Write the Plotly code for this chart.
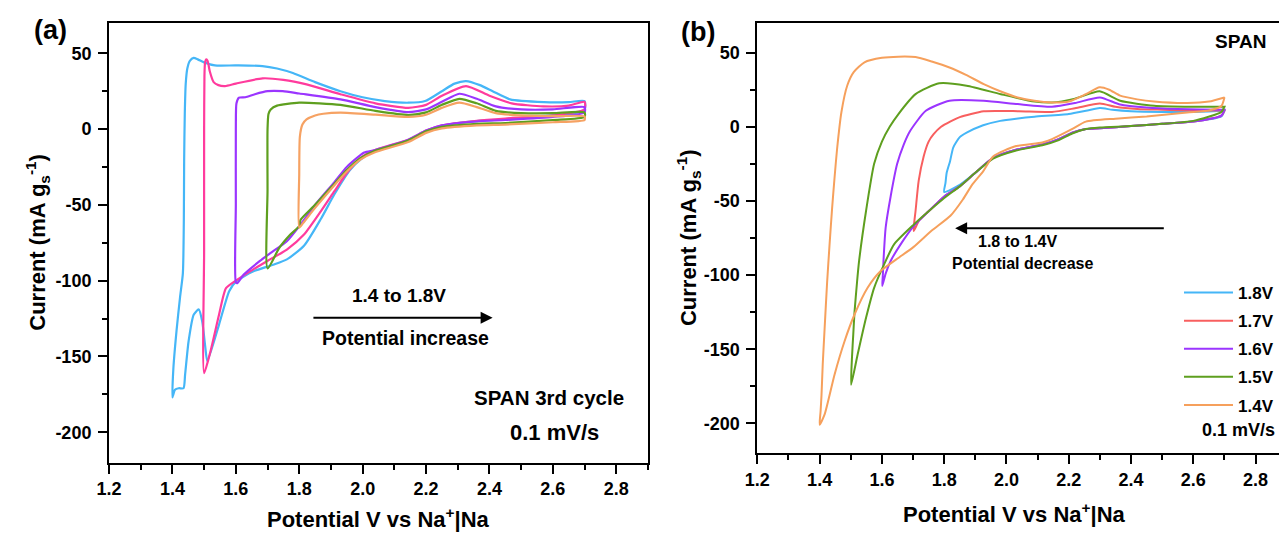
import plotly.graph_objects as go

# ---------------- Panel (a): lower cut-off 1.4 -> 1.8 V (3rd cycle) ----------------
a_names = ["1.4V", "1.5V", "1.6V", "1.7V", "1.8V"]
a_colors = ["#45b6f7", "#ff3b9d", "#9b35ff", "#5e9f1f", "#f6a263"]

a14_x = [1.400, 1.403, 1.413, 1.424, 1.433, 1.436, 1.437, 1.439, 1.442, 1.447, 1.455, 1.467, 1.480, 1.500,
         1.534, 1.600, 1.684, 1.730, 1.780, 1.850, 1.930, 2.000, 2.070, 2.144, 2.197, 2.250, 2.290, 2.326,
         2.370, 2.410, 2.465, 2.572, 2.650, 2.700,
         2.700, 2.650, 2.560, 2.450, 2.360, 2.300, 2.250, 2.200, 2.144, 2.090, 2.037, 1.994, 1.960, 1.911,
         1.869, 1.815, 1.761, 1.718, 1.654, 1.601, 1.579, 1.547, 1.510, 1.504, 1.494, 1.483, 1.467, 1.451,
         1.440, 1.435, 1.420, 1.408, 1.400]
a14_y = [-177, -158, -133, -111, -95, -60, -20, 10, 30, 40, 45, 47, 46, 44,
         42, 42, 41.6, 40, 37, 31, 25, 21, 18.5, 17.4, 18.5, 25, 30, 31.7,
         29, 25, 19.6, 17.8, 17.8, 18.5,
         13, 9.5, 8.6, 6.5, 5.3, 4, 2, -1.3, -8, -11, -14.5, -20, -27, -43,
         -59, -77, -86, -89.5, -94, -100.5, -107, -129, -153, -144.5, -127, -119, -122.5, -140,
         -162, -171, -171, -172, -177]

a15_x = [1.500, 1.500, 1.500, 1.501, 1.503, 1.507, 1.511, 1.518, 1.530, 1.545, 1.566, 1.600, 1.684, 1.750,
         1.823, 1.930, 2.040, 2.144, 2.200, 2.250, 2.326, 2.400, 2.470, 2.570, 2.650, 2.700,
         2.700, 2.600, 2.450, 2.360, 2.250, 2.200, 2.144, 2.037, 1.994, 1.950, 1.911, 1.869, 1.815, 1.761,
         1.708, 1.654, 1.600, 1.569, 1.547, 1.520, 1.500]
a15_y = [-161, -80, 0, 35, 44, 46, 45, 38, 31, 29, 28.4, 30, 33.5, 32.5,
         29.5, 23, 17, 14, 16, 22, 28.4, 22, 17, 15, 15.5, 18,
         13, 9, 7, 5.5, 2.5, -1, -7, -14, -19, -29, -41, -54, -69.6, -79.5,
         -86, -92.7, -100, -105, -122.5, -146.7, -161]

a16_x = [1.600, 1.600, 1.600, 1.602, 1.610, 1.630, 1.660, 1.700, 1.748, 1.800, 1.930, 2.040, 2.144, 2.200,
         2.250, 2.305, 2.360, 2.420, 2.500, 2.600, 2.700,
         2.700, 2.600, 2.450, 2.360, 2.250, 2.200, 2.144, 2.037, 2.005, 1.950, 1.911, 1.850, 1.804, 1.761,
         1.710, 1.676, 1.625, 1.605, 1.600]
a16_y = [-101, -50, 0, 17, 20.7, 21, 23, 25, 25, 23.5, 19.6, 14.5, 11.2, 13,
         18, 23.3, 20, 15, 13, 13, 14.5,
         11, 8, 6, 5, 2.5, -1, -7, -14, -15.5, -25, -35, -50, -63, -74,
         -81.7, -87, -96, -101.6, -101]

a17_x = [1.700, 1.700, 1.700, 1.703, 1.710, 1.730, 1.800, 1.930, 2.040, 2.144, 2.200, 2.250, 2.305, 2.360,
         2.420, 2.500, 2.600, 2.700,
         2.700, 2.600, 2.450, 2.360, 2.250, 2.200, 2.144, 2.037, 1.994, 1.950, 1.911, 1.850, 1.804, 1.800,
         1.772, 1.737, 1.700]
a17_y = [-92, -40, 0, 10, 13, 15.5, 17.4, 16, 12, 9.3, 11, 16, 20, 17,
         12, 10.5, 10.5, 11,
         8, 6, 4, 3.5, 1.5, -1.5, -7.5, -14.5, -19, -27, -36, -50, -60, -64,
         -69.6, -78.4, -92]

a18_x = [1.800, 1.800, 1.802, 1.810, 1.823, 1.850, 1.876, 1.930, 2.040, 2.144, 2.200, 2.250, 2.305, 2.360,
         2.420, 2.500, 2.600, 2.700,
         2.700, 2.600, 2.450, 2.360, 2.250, 2.200, 2.144, 2.037, 1.994, 1.950, 1.911, 1.850, 1.812, 1.800]
a18_y = [-65, -30, -5, 3, 6.4, 9, 10.1, 10.8, 9.5, 8, 9.5, 14, 17.4, 14.5,
         10.5, 9, 8.5, 8.3,
         6, 4.5, 3, 2.5, 0.5, -2.5, -8.5, -15.5, -20, -28, -37, -52, -62, -65]

# ---------------- Panel (b): lower cut-off 1.8 -> 1.4 V ----------------
b_names = ["1.8V", "1.7V", "1.6V", "1.5V", "1.4V"]
b_colors = ["#45b6f7", "#f85f5f", "#9b35ff", "#5e9f1f", "#f6a05c"]

b18_x = [1.800, 1.804, 1.808, 1.819, 1.829, 1.850, 1.872, 1.925, 1.980, 2.031, 2.090, 2.200, 2.260, 2.300,
         2.340, 2.400, 2.500, 2.600, 2.700,
         2.700, 2.690, 2.600, 2.500, 2.400, 2.300, 2.255, 2.211, 2.168, 2.115, 2.031, 1.957, 1.900, 1.851,
         1.800]
b18_y = [-44, -38, -31, -23, -14, -7, -4, 1, 4, 5.5, 6.8, 8.6, 11, 12.6,
         11.5, 10.5, 10, 10, 10.8,
         10.8, 7, 3.5, 2, 0.5, -1, -1.5, -4, -8.3, -12, -15.5, -21, -31, -39,
         -44]

b17_x = [1.702, 1.704, 1.708, 1.718, 1.734, 1.750, 1.766, 1.790, 1.819, 1.850, 1.927, 2.040, 2.146, 2.220,
         2.300, 2.350, 2.420, 2.500, 2.600, 2.700,
         2.700, 2.690, 2.600, 2.500, 2.400, 2.300, 2.255, 2.211, 2.168, 2.115, 2.031, 1.957, 1.900, 1.851,
         1.800, 1.750, 1.720, 1.702]
b17_y = [-70.3, -64, -56.8, -36.5, -20, -10, -5, 0, 3.5, 6.5, 10.5, 10.5, 10, 12.5,
         15.7, 13.5, 12, 11.5, 11, 11,
         11, 7.5, 3.5, 2, 0.5, -1, -1.5, -4, -8.3, -12, -15.5, -21, -31, -40,
         -47, -57, -63, -70.3]

b16_x = [1.601, 1.603, 1.605, 1.612, 1.628, 1.649, 1.670, 1.690, 1.741, 1.817, 1.927, 2.036, 2.146, 2.220,
         2.300, 2.365, 2.450, 2.550, 2.700,
         2.700, 2.690, 2.600, 2.500, 2.400, 2.300, 2.255, 2.211, 2.168, 2.115, 2.031, 1.957, 1.900, 1.851,
         1.800, 1.750, 1.702, 1.660, 1.628, 1.612, 1.601]
b16_y = [-107.4, -100, -90.5, -68, -47, -25, -12, -3, 10.8, 17.6, 17.6, 15.3, 13.5, 16,
         19.8, 15, 13, 12, 11.5,
         11.5, 7.5, 3.5, 2, 0.5, -1, -1.5, -4, -8.3, -12, -15.5, -21, -31, -40,
         -47, -57, -67, -79.3, -90.5, -99, -107.4]

b15_x = [1.501, 1.504, 1.508, 1.512, 1.520, 1.527, 1.549, 1.575, 1.600, 1.625, 1.653, 1.708, 1.784, 1.872,
         1.982, 2.090, 2.146, 2.220, 2.299, 2.365, 2.474, 2.600, 2.700,
         2.700, 2.690, 2.600, 2.500, 2.400, 2.300, 2.255, 2.211, 2.168, 2.115, 2.031, 1.957, 1.900, 1.851,
         1.800, 1.750, 1.702, 1.639, 1.607, 1.575, 1.549, 1.522, 1.501]
b15_y = [-174, -155, -140, -125, -105, -90, -56.8, -25, -10, 0, 8.6, 22, 29.3, 27.7,
         22, 17, 16.4, 19, 23.9, 17.6, 14.2, 13.5, 13.5,
         13.5, 10, 4, 2, 0.5, -0.5, -1.5, -4.5, -9, -12.5, -16, -21.5, -31, -40,
         -48, -57, -66, -79.3, -92.8, -108.6, -128.8, -153.6, -174]

b14_x = [1.400, 1.403, 1.406, 1.410, 1.416, 1.424, 1.432, 1.440, 1.448, 1.456, 1.470, 1.489, 1.510, 1.544,
         1.600, 1.653, 1.708, 1.760, 1.817, 1.870, 1.927, 1.980, 2.036, 2.090, 2.146, 2.200, 2.255, 2.299,
         2.330, 2.365, 2.420, 2.474, 2.580, 2.650, 2.700,
         2.700, 2.690, 2.650, 2.580, 2.450, 2.350, 2.255, 2.210, 2.146, 2.115, 2.031, 1.957, 1.925, 1.890,
         1.860, 1.820, 1.760, 1.702, 1.649, 1.596, 1.554, 1.512, 1.480, 1.448, 1.416, 1.400]
b14_y = [-201, -192, -181, -160, -136, -105, -79, -55, -34, -15, 10, 28, 37, 43.5,
         46.5, 47.3, 47, 44, 40, 35, 28.8, 24, 19.8, 17.5, 16.4, 17, 22, 26.6,
         25, 21, 18.5, 17, 16, 17, 19.8,
         19.8, 14, 11, 9.7, 7, 5.5, 3.5, -1.6, -8.3, -10.6, -13, -20, -30, -39,
         -49, -60, -70, -81, -89, -97.3, -108.6, -126.6, -144.6, -167, -194, -201]

x_ticks = [1.2, 1.4, 1.6, 1.8, 2.0, 2.2, 2.4, 2.6, 2.8]
y_ticks = [50, 0, -50, -100, -150, -200]

a_x = [a14_x, a15_x, a16_x, a17_x, a18_x]
a_y = [a14_y, a15_y, a16_y, a17_y, a18_y]
b_x = [b18_x, b17_x, b16_x, b15_x, b14_x]
b_y = [b18_y, b17_y, b16_y, b15_y, b14_y]

W, H = 1279, 534
FONT = "Liberation Sans, Arial, Helvetica, sans-serif"

fig = go.Figure()
for xs, ys, nm, col in zip(a_x, a_y, a_names, a_colors):
    fig.add_trace(go.Scatter(x=xs, y=ys, mode="lines", name=nm, showlegend=False,
                             line=dict(color=col, width=2.2, shape="spline", smoothing=0.6),
                             xaxis="x", yaxis="y"))
for xs, ys, nm, col in zip(b_x, b_y, b_names, b_colors):
    fig.add_trace(go.Scatter(x=xs, y=ys, mode="lines", name=nm, legendgroup=nm,
                             line=dict(color=col, width=2.0, shape="spline", smoothing=0.6),
                             xaxis="x2", yaxis="y2"))


def px(x):
    return x / W


def py(y):
    return 1 - y / H


tickfont = dict(family=FONT, size=18, color="black", weight="bold")
common_x = dict(tickmode="array", tickvals=x_ticks, ticktext=[f"{v:.1f}" for v in x_ticks],
                ticks="outside", ticklen=9, tickwidth=2, tickcolor="black",
                minor=dict(dtick=0.1, tick0=1.2, ticks="outside", ticklen=5, tickwidth=2, tickcolor="black"),
                showline=True, linewidth=2, linecolor="black", showgrid=False, zeroline=False,
                tickfont=tickfont)
common_y = dict(tickmode="array", tickvals=y_ticks, ticktext=[str(v) for v in y_ticks],
                ticks="outside", ticklen=9, tickwidth=2, tickcolor="black",
                minor=dict(dtick=25, tick0=0, ticks="outside", ticklen=5, tickwidth=2, tickcolor="black"),
                showline=True, linewidth=2, linecolor="black", showgrid=False, zeroline=False,
                tickfont=tickfont, range=[-220, 70], ticklabelstandoff=3)

fig.update_layout(
    width=W, height=H,
    margin=dict(l=0, r=0, t=0, b=0),
    paper_bgcolor="white", plot_bgcolor="white",
    font=dict(family=FONT, color="black"),
    xaxis=dict(common_x, domain=[px(97), px(641.5)], range=[1.2, 2.90], anchor="y", mirror=True),
    yaxis=dict(common_y, domain=[py(462.5), py(23)], anchor="x", mirror=True),
    xaxis2=dict(common_x, domain=[px(752), 1.0], range=[1.2, 1.2 + (W - 752) / 314.6],
                anchor="y2", mirror=True),
    yaxis2=dict(common_y, domain=[py(453), py(23)], anchor="x2", mirror=False),
    legend=dict(x=px(1178), y=py(275), xanchor="left", yanchor="top", itemwidth=49,
                font=dict(family=FONT, size=17, color="black", weight="bold"),
                bgcolor="rgba(0,0,0,0)", tracegroupgap=3, traceorder="grouped"),
    showlegend=True,
)


def txt(x, y, s, size, **kw):
    fig.add_annotation(x=px(x), y=py(y), xref="paper", yref="paper", text=s, showarrow=False,
                       font=dict(family=FONT, size=size, color="black", weight="bold"),
                       xanchor="center", yanchor="middle", **kw)


# panel labels
txt(38, 30, "(a)", 27)
txt(692, 32, "(b)", 27)
# axis titles
ytitle = "Current (mA g<sub>s</sub><sup>-1</sup>)"
xtitle = "Potential V vs Na<sup>+</sup>|Na"
txt(24, 242, ytitle, 22, textangle=-90)
txt(682, 238, ytitle, 22, textangle=-90)
txt(369, 518, xtitle, 22)
txt(1012, 513, xtitle, 22)

# panel (a) annotations
txt(390, 295, "1.4 to 1.8V", 19)
txt(397, 338, "Potential increase", 19.5)
txt(541, 397, "SPAN 3rd cycle", 20.5)
txt(547, 432, "0.1 mV/s", 22)
fig.add_annotation(x=2.41, y=-124.5, ax=1.84, ay=-124.5, xref="x", yref="y", axref="x", ayref="y",
                   text="", showarrow=True, arrowhead=2, arrowsize=1.2, arrowwidth=2, arrowcolor="black")

# panel (b) annotations
txt(1240, 42, "SPAN", 19)
txt(1015, 241, "1.8 to 1.4V", 16)
txt(1020, 263, "Potential decrease", 16)
txt(1238, 430, "0.1 mV/s", 18)
fig.add_annotation(x=1.835, y=-68.5, ax=2.510, ay=-68.5, xref="x2", yref="y2", axref="x2", ayref="y2",
                   text="", showarrow=True, arrowhead=2, arrowsize=1.2, arrowwidth=2, arrowcolor="black")

fig.write_html("out.html", config={"displayModeBar": False},
               post_script="document.body.style.margin='0px';document.body.style.overflow='hidden';")
